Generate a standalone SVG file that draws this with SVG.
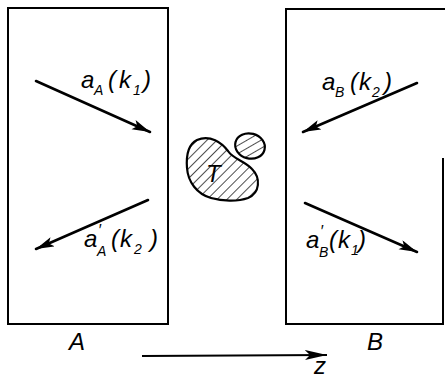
<svg xmlns="http://www.w3.org/2000/svg" width="445" height="378" viewBox="0 0 445 378">
<style>
.frame{fill:none;stroke:#000;stroke-width:2}
.arr{fill:none;stroke:#000;stroke-width:2.6;stroke-linecap:round}
.zarr{fill:none;stroke:#000;stroke-width:2}
.lbl{font-family:"Liberation Sans",Arial,sans-serif;font-style:italic;font-size:24px;fill:#000}
.sub{font-size:14px}
.pr{font-size:16px}
.blob{fill:url(#hatch);stroke:#000;stroke-width:2.2}
</style>
<defs>
<marker id="ah" markerUnits="userSpaceOnUse" markerWidth="20" markerHeight="12" refX="18" refY="5" orient="auto">
<path d="M0,0 L18,5 L0,10 L4,5 Z" fill="#000"/>
</marker>
<marker id="zh" markerUnits="userSpaceOnUse" markerWidth="24" markerHeight="12" refX="22" refY="5" orient="auto">
<path d="M0,0 L22,5 L0,10 L5,5 Z" fill="#000"/>
</marker>
<pattern id="hatch" patternUnits="userSpaceOnUse" width="7" height="7" patternTransform="rotate(45)">
<rect width="7" height="7" fill="#fff"/>
<line x1="0" y1="0" x2="0" y2="7" stroke="#000" stroke-width="1.4"/>
</pattern>
</defs>

<g id="boxA">
<rect class="frame" x="8" y="8" width="160" height="316"/>
<text class="lbl" x="69" y="350">A</text>
</g>

<g id="boxB">
<path class="frame" d="M443,158 L443,324 L286,324 L286,9 L445,9"/>
<text class="lbl" x="367" y="350">B</text>
</g>

<g id="target">
<path class="blob" d="M197,140 C210,134 222,143 228,151 C233,159 245,161 252,169 C261,178 260,193 248,198 C237,202 222,201 211,198 C197,194 188,182 187,168 C186,155 189,144 197,140 Z"/>
<ellipse class="blob" cx="250" cy="146" rx="15" ry="12.5" transform="rotate(15 250 146)"/>
<text class="lbl" x="206" y="182">T</text>
</g>

<g id="connectors">
<line class="arr" x1="36" y1="81" x2="150" y2="132" marker-end="url(#ah)"/>
<line class="arr" x1="148" y1="200" x2="36" y2="249" marker-end="url(#ah)"/>
<line class="arr" x1="417" y1="83" x2="303" y2="132" marker-end="url(#ah)"/>
<line class="arr" x1="305" y1="203" x2="417" y2="252" marker-end="url(#ah)"/>
<line class="zarr" x1="142" y1="356" x2="327" y2="355" marker-end="url(#zh)"/>
</g>

<g id="labels">
<text class="lbl"><tspan x="81" y="88">a</tspan><tspan class="sub" x="94" y="95">A</tspan><tspan x="108" y="88">(</tspan><tspan x="119" y="88">k</tspan><tspan class="sub" x="133" y="95">1</tspan><tspan x="143" y="88">)</tspan></text>
<text class="lbl"><tspan x="84" y="247">a</tspan><tspan class="pr" x="98" y="236">′</tspan><tspan class="sub" x="97" y="256">A</tspan><tspan x="111" y="247">(</tspan><tspan x="120" y="247">k</tspan><tspan class="sub" x="134" y="254">2</tspan><tspan x="150" y="247">)</tspan></text>
<text class="lbl"><tspan x="322" y="90">a</tspan><tspan class="sub" x="335" y="97">B</tspan><tspan x="350" y="90">(</tspan><tspan x="359" y="90">k</tspan><tspan class="sub" x="372" y="97">2</tspan><tspan x="384" y="90">)</tspan></text>
<text class="lbl"><tspan x="306" y="248">a</tspan><tspan class="pr" x="320" y="237">′</tspan><tspan class="sub" x="319" y="257">B</tspan><tspan x="329" y="248">(</tspan><tspan x="338" y="248">k</tspan><tspan class="sub" x="351" y="255">1</tspan><tspan x="358" y="248">)</tspan></text>
<text class="lbl" x="314" y="374">z</text>
</g>
</svg>
